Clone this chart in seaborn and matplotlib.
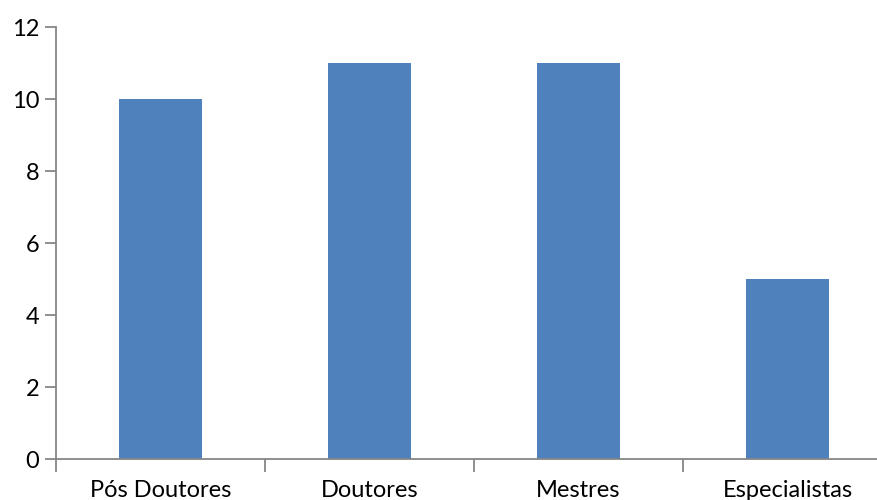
import matplotlib
matplotlib.use("Agg")
import matplotlib.pyplot as plt
import seaborn as sns
import pandas as pd
from matplotlib.ticker import FixedLocator

categories = ["Pós Doutores", "Doutores", "Mestres", "Especialistas"]
values = [10, 11, 11, 5]

sns.set_style("white")
plt.rcParams['font.family'] = ['Lato', 'DejaVu Sans']

df = pd.DataFrame({"cat": categories, "val": values})

fig = plt.figure(figsize=(8.78, 5.0), dpi=100)
ax = fig.add_axes([56/878, 41/500, 836/878, 432/500])
sns.barplot(data=df, x="cat", y="val", color="#4F81BD", saturation=1, width=0.40,
            linewidth=0, edgecolor="none", ax=ax)

ax.set_xlim(-0.5, 3.5)
ax.set_ylim(0, 12)
ax.set_yticks([0, 2, 4, 6, 8, 10, 12])
ax.set_xlabel("")
ax.set_ylabel("")
gray = "#868686"
for s in ["top", "right"]:
    ax.spines[s].set_visible(False)
for s in ["left", "bottom"]:
    ax.spines[s].set_color(gray)
    ax.spines[s].set_linewidth(1.3)
    ax.spines[s].set_visible(True)
ax.xaxis.set_minor_locator(FixedLocator([-0.5, 0.5, 1.5, 2.5, 3.5]))
ax.tick_params(axis="x", which="major", length=0, labelsize=17, pad=15, colors="black")
ax.tick_params(axis="x", which="minor", length=9, width=1.3, color=gray, direction="out", bottom=True)
ax.tick_params(axis="y", which="major", length=8, width=1.3, color=gray, labelsize=17, pad=4, left=True, labelcolor="black")
ax.grid(False)

fig.savefig("out.png", dpi=100)
